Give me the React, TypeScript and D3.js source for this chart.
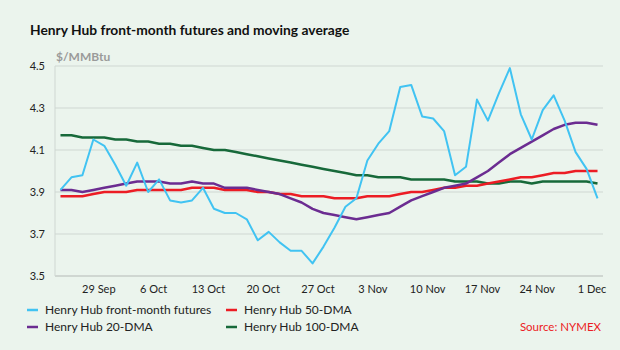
import React from "react";
import * as d3 from "d3";

// Henry Hub front-month futures vs moving averages ($/MMBtu), one value per trading day
const futures = [
  3.91, 3.97, 3.98, 4.15, 4.12, 4.03, 3.93, 4.04, 3.9, 3.96,
  3.86, 3.85, 3.86, 3.92, 3.82, 3.8, 3.8, 3.77, 3.67, 3.71,
  3.66, 3.62, 3.62, 3.56, 3.64, 3.73, 3.83, 3.87, 4.05, 4.13,
  4.19, 4.4, 4.41, 4.26, 4.25, 4.19, 3.98, 4.02, 4.34, 4.24,
  4.37, 4.49, 4.27, 4.15, 4.29, 4.36, 4.24, 4.09, 4.01, 3.87,
];
const dma20 = [
  3.91, 3.91, 3.9, 3.91, 3.92, 3.93, 3.94, 3.95, 3.95, 3.95,
  3.94, 3.94, 3.95, 3.94, 3.94, 3.92, 3.92, 3.92, 3.91, 3.9,
  3.89, 3.87, 3.85, 3.82, 3.8, 3.79, 3.78, 3.77, 3.78, 3.79,
  3.8, 3.83, 3.86, 3.88, 3.9, 3.92, 3.93, 3.94, 3.97, 4.0,
  4.04, 4.08, 4.11, 4.14, 4.17, 4.2, 4.22, 4.23, 4.23, 4.22,
];
const dma50 = [
  3.88, 3.88, 3.88, 3.89, 3.9, 3.9, 3.9, 3.91, 3.91, 3.91,
  3.91, 3.91, 3.92, 3.92, 3.92, 3.91, 3.91, 3.91, 3.9, 3.9,
  3.89, 3.89, 3.88, 3.88, 3.88, 3.87, 3.87, 3.87, 3.88, 3.88,
  3.88, 3.89, 3.9, 3.9, 3.91, 3.92, 3.92, 3.93, 3.93, 3.94,
  3.95, 3.96, 3.97, 3.97, 3.98, 3.99, 3.99, 4.0, 4.0, 4.0,
];
const dma100 = [
  4.17, 4.17, 4.16, 4.16, 4.16, 4.15, 4.15, 4.14, 4.14, 4.13,
  4.13, 4.12, 4.12, 4.11, 4.1, 4.1, 4.09, 4.08, 4.07, 4.06,
  4.05, 4.04, 4.03, 4.02, 4.01, 4.0, 3.99, 3.98, 3.98, 3.97,
  3.97, 3.97, 3.96, 3.96, 3.96, 3.96, 3.95, 3.95, 3.95, 3.94,
  3.94, 3.95, 3.95, 3.94, 3.95, 3.95, 3.95, 3.95, 3.95, 3.94,
];

const xLabels = ["29 Sep", "6 Oct", "13 Oct", "20 Oct", "27 Oct", "3 Nov", "10 Nov", "17 Nov", "24 Nov", "1 Dec"];
const xLabelIndex = [3.5, 8.5, 13.5, 18.5, 23.5, 28.5, 33.5, 38.5, 43.5, 48.5];
const yTicks = [3.5, 3.7, 3.9, 4.1, 4.3, 4.5];

const series = [
  { name: "Henry Hub front-month futures", values: futures, color: "#41c3f2", width: 2 },
  { name: "Henry Hub 50-DMA", values: dma50, color: "#ec1c24", width: 2.5 },
  { name: "Henry Hub 20-DMA", values: dma20, color: "#6b2c91", width: 2.5 },
  { name: "Henry Hub 100-DMA", values: dma100, color: "#17693a", width: 2.5 },
];

const W = 620;
const H = 350;
const font = "Lato, 'Open Sans', sans-serif";

const App = () => {
  const x = d3.scaleLinear().domain([-0.5, futures.length - 0.5]).range([55, 603]);
  const y = d3.scaleLinear().domain([3.5, 4.5]).range([276, 66]);

  const line = d3
    .line<number>()
    .x((_, i) => x(i))
    .y((d) => y(d));

  // draw order: averages under futures
  const drawOrder = [series[3], series[1], series[2], series[0]];

  const legendPos = [
    { x: 27, y: 310 },
    { x: 226, y: 310 },
    { x: 27, y: 327 },
    { x: 226, y: 327 },
  ];

  return (
    <div style={{ position: "absolute", left: 0, top: 0 }}>
      <svg width={W} height={H} style={{ display: "block", background: "#ebf4ed" }}>
        <text x={30} y={35} fontFamily={font} fontSize={13.8} fontWeight="bold" fill="#111">
          Henry Hub front-month futures and moving average
        </text>
        <text x={56} y={61} fontFamily={font} fontSize={12} fontWeight="bold" fill="#9a9a9a">
          $/MMBtu
        </text>

        {/* gridlines */}
        {yTicks.map((t) => (
          <line
            key={t}
            x1={55}
            x2={603}
            y1={y(t)}
            y2={y(t)}
            stroke={t === 3.5 ? "#b4b9b6" : "#cfd7d2"}
            strokeWidth={1}
          />
        ))}
        <line x1={55} x2={55} y1={y(4.5)} y2={y(3.5)} stroke="#cfd7d2" strokeWidth={1} />

        {yTicks.map((t) => (
          <text
            key={"l" + t}
            x={45}
            y={y(t) + 4}
            textAnchor="end"
            fontFamily={font}
            fontSize={11}
            fill="#222"
          >
            {t.toFixed(1)}
          </text>
        ))}

        {xLabels.map((lab, i) => (
          <text
            key={lab}
            x={x(xLabelIndex[i])}
            y={293}
            textAnchor="middle"
            fontFamily={font}
            fontSize={11}
            fill="#222"
          >
            {lab}
          </text>
        ))}

        {drawOrder.map((s) => (
          <path
            key={s.name}
            d={line(s.values) || ""}
            fill="none"
            stroke={s.color}
            strokeWidth={s.width}
            strokeLinejoin="round"
          />
        ))}

        {/* legend */}
        {series.map((s, i) => (
          <g key={"lg" + s.name} transform={`translate(${legendPos[i].x},${legendPos[i].y})`}>
            <line x1={0} x2={11} y1={0} y2={0} stroke={s.color} strokeWidth={2.5} />
            <text x={18} y={4} fontFamily={font} fontSize={12} fill="#222">
              {s.name}
            </text>
          </g>
        ))}
        <text x={601} y={331} textAnchor="end" fontFamily={font} fontSize={11.5} fill="#ec1c24">
          Source: NYMEX
        </text>
      </svg>
    </div>
  );
};

export default App;
